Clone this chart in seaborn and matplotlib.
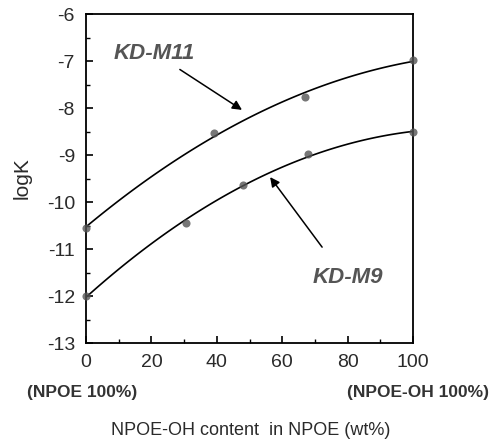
import numpy as np
import pandas as pd
import matplotlib
matplotlib.use("Agg")
import matplotlib.pyplot as plt
import seaborn as sns

sns.set_theme(style="ticks")
plt.rcParams['font.family'] = ['Liberation Sans', 'DejaVu Sans']

m11_x = [0, 39, 67, 100]
m11_y = [-10.55, -8.53, -7.76, -6.98]
m9_x = [0, 30.5, 48, 68, 100]
m9_y = [-12.0, -10.45, -9.64, -8.98, -8.52]
xticks = [0, 20, 40, 60, 80, 100]
yticks = [-13, -12, -11, -10, -9, -8, -7, -6]

df11 = pd.DataFrame({"x": m11_x, "y": m11_y})
df9 = pd.DataFrame({"x": m9_x, "y": m9_y})

fig = plt.figure(figsize=(4.96, 4.46), dpi=100)
ax = fig.add_axes([0.1734, 0.2309, 0.6593, 0.7377])

mc = "#555555"
sns.regplot(data=df11, x="x", y="y", order=2, ci=None, ax=ax, truncate=True,
            scatter_kws=dict(color=mc, s=34, marker="o", zorder=3, linewidths=0, clip_on=False),
            line_kws=dict(color="black", lw=1.2, zorder=2))
sns.regplot(data=df9, x="x", y="y", order=2, ci=None, ax=ax, truncate=True,
            scatter_kws=dict(color=mc, s=34, marker="s", zorder=3, linewidths=0, clip_on=False),
            line_kws=dict(color="black", lw=1.2, zorder=2))

ax.set_xlim(0, 100)
ax.set_ylim(-13, -6)
ax.set_xticks(xticks)
ax.set_yticks(yticks)
ax.set_xticks([10, 30, 50, 70, 90], minor=True)
ax.set_yticks(np.arange(-12.5, -6, 1.0), minor=True)
ax.tick_params(which="both", direction="in", labelsize=14, colors="black")
ax.tick_params(which="major", length=5, width=1.2, pad=8)
ax.tick_params(which="minor", length=3, width=1)
ax.set_xticklabels([str(v) for v in xticks], color="#2a2a2a")
ax.set_yticklabels([str(v) for v in yticks], color="#2a2a2a")
for s in ax.spines.values():
    s.set_linewidth(1.3)
    s.set_color("black")
ax.set_xlabel("")
ax.set_ylabel("logK", fontsize=15, color="#2a2a2a")
ax.yaxis.set_label_coords(-0.165, 0.5)

fig.text(0.165, 0.121, "(NPOE 100%)", fontsize=12.5, fontweight="bold",
         ha="center", va="center", color="#333333")
fig.text(0.843, 0.121, "(NPOE-OH 100%)", fontsize=12.5, fontweight="bold",
         ha="center", va="center", color="#333333")
fig.text(0.505, 0.035, "NPOE-OH content  in NPOE (wt%)", fontsize=13,
         ha="center", va="center", color="#2a2a2a")

ax.annotate("", xy=(47.7, -8.04), xytext=(28.7, -7.18),
            arrowprops=dict(arrowstyle="-|>", color="black", lw=1.1,
                            mutation_scale=14, shrinkA=0, shrinkB=0))
ax.text(20.8, -6.83, "KD-M11", fontsize=16, fontweight="bold", fontstyle="italic",
        color="#555555", ha="center", va="center")
ax.annotate("", xy=(56.3, -9.47), xytext=(72.2, -10.96),
            arrowprops=dict(arrowstyle="-|>", color="black", lw=1.1,
                            mutation_scale=14, shrinkA=0, shrinkB=0))
ax.text(80.1, -11.6, "KD-M9", fontsize=16, fontweight="bold", fontstyle="italic",
        color="#555555", ha="center", va="center")

fig.savefig("out.png", dpi=100)
